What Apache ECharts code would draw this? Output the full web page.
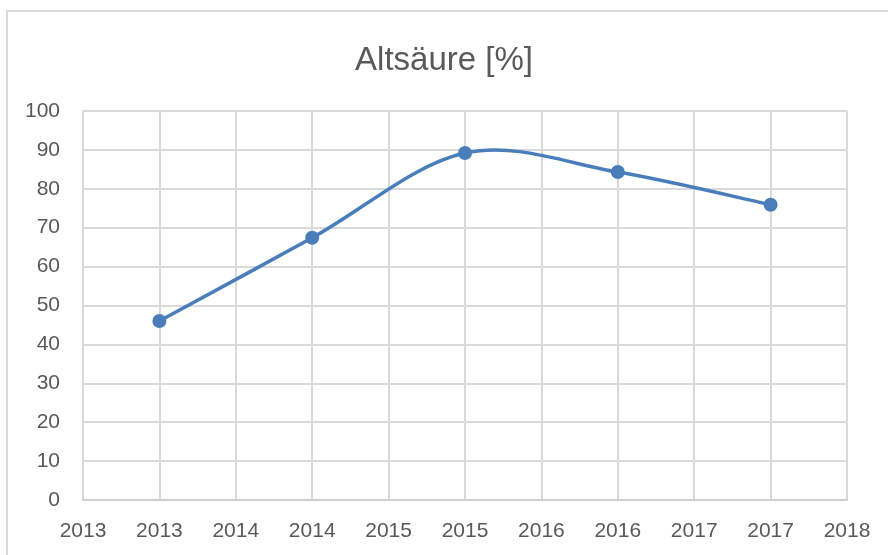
<!DOCTYPE html>
<html>
<head>
<meta charset="utf-8">
<script src="https://cdn.jsdelivr.net/npm/echarts@6/dist/echarts.min.js"></script>
<style>
  html, body { margin: 0; padding: 0; background: #fff; }
  #chart { width: 888px; height: 555px; }
</style>
</head>
<body>
<div id="chart"></div>
<script>
// Altsäure [%] - Jahreswerte
const years = [2013, 2014, 2015, 2016, 2017];
const values = [46, 67.4, 89.2, 84.3, 75.9];
const titleText = 'Altsäure [%]';

const chart = echarts.init(document.getElementById('chart'));
const textColor = '#595959';
const gridColor = '#d9d9d9';
const lineColor = '#4a7ebb';

// Excel-artige Glättung (Catmull-Rom), Stützpunkte über die Achsen
function renderSegment(params, api) {
  const i = params.dataIndex;
  const n = years.length;
  if (i >= n - 1) return null;
  const pt = k => {
    const j = Math.max(0, Math.min(n - 1, k));
    return api.coord([years[j], values[j]]);
  };
  const p0 = pt(i - 1), p1 = pt(i), p2 = pt(i + 1), p3 = pt(i + 2);
  const t = 1 / 6;
  return {
    type: 'bezierCurve',
    shape: {
      x1: p1[0], y1: p1[1],
      x2: p2[0], y2: p2[1],
      cpx1: p1[0] + (p2[0] - p0[0]) * t,
      cpy1: p1[1] + (p2[1] - p0[1]) * t,
      cpx2: p2[0] - (p3[0] - p1[0]) * t,
      cpy2: p2[1] - (p3[1] - p1[1]) * t
    },
    style: { fill: 'none', stroke: lineColor, lineWidth: 3.5, lineCap: 'round' }
  };
}

chart.setOption({
  backgroundColor: '#fff',
  animation: false,
  title: {
    text: titleText,
    left: 'center',
    top: 39,
    textStyle: { color: textColor, fontSize: 33, fontWeight: 'normal', fontFamily: 'Liberation Sans' }
  },
  graphic: [{
    type: 'rect',
    shape: { x: 7, y: 11, width: 900, height: 600 },
    style: { fill: 'none', stroke: gridColor, lineWidth: 2 },
    silent: true
  }],
  grid: { left: 83, right: 41, top: 111, bottom: 55 },
  xAxis: {
    type: 'value',
    min: 2012.5,
    max: 2017.5,
    interval: 0.5,
    axisLine: { show: true, lineStyle: { color: '#cfcfcf', width: 2 } },
    axisTick: { show: false },
    splitLine: { show: true, lineStyle: { color: gridColor, width: 2 } },
    axisLabel: {
      color: textColor, fontSize: 21, fontFamily: 'Liberation Sans', margin: 21,
      formatter: v => String(Math.round(v))
    }
  },
  yAxis: {
    type: 'value',
    min: 0,
    max: 100,
    interval: 10,
    axisLine: { show: false },
    axisTick: { show: false },
    splitLine: { show: true, lineStyle: { color: gridColor, width: 2 } },
    axisLabel: { color: textColor, fontSize: 21, fontFamily: 'Liberation Sans', margin: 23 }
  },
  series: [
    {
      name: 'Kurve',
      type: 'custom',
      renderItem: renderSegment,
      data: years.map((y, i) => [y, values[i]]),
      z: 2
    },
    {
      name: 'Altsäure',
      type: 'scatter',
      data: years.map((y, i) => [y, values[i]]),
      symbol: 'circle',
      symbolSize: 14,
      itemStyle: { color: lineColor, opacity: 1 },
      z: 3
    }
  ]
});
</script>
</body>
</html>
